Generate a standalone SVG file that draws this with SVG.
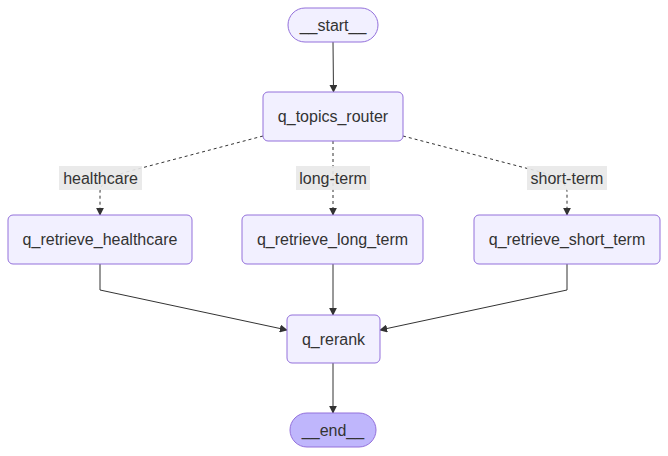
<svg xmlns="http://www.w3.org/2000/svg" width="668" height="456" viewBox="0 0 668 456">
<defs>
<marker id="arr" viewBox="0 0 10 10" refX="9" refY="5" markerWidth="8" markerHeight="8" markerUnits="userSpaceOnUse" orient="auto">
<path d="M0,0 L10,5 L0,10 z" fill="#333"/>
</marker>
<style>
.node rect{fill:#f2f0ff;stroke:#9370db;stroke-width:1}
.term rect{stroke:#9370db;stroke-width:1}
text{font-family:"Liberation Sans",Arial,sans-serif;font-size:16px;fill:#333;text-anchor:middle;dominant-baseline:central}
.e{fill:none;stroke:#333;stroke-width:1;marker-end:url(#arr)}
.d{stroke-dasharray:3,3}
.lbl rect{fill:#e8e8e8;opacity:0.9}
</style>
</defs>
<rect width="668" height="456" fill="#fff"/>
<g id="edges">
<path class="e" d="M333,42 L333.5,92"/>
<path class="e d" d="M263,136 L130,171 Q100,179 100,192 L100,215"/>
<path class="e d" d="M333,141 L333,215"/>
<path class="e d" d="M403,136 L537,171 Q567,179 567,192 L567,215"/>
<path class="e" d="M100,264 L100,290 L287,330"/>
<path class="e" d="M333,264 L333,315"/>
<path class="e" d="M567,264 L567,290 L380,330"/>
<path class="e" d="M333,363 L333,413"/>
</g>
<g id="edge-labels">
<g class="lbl"><rect x="59" y="166" width="83" height="24"/><text x="100.5" y="178">healthcare</text></g>
<g class="lbl"><rect x="296" y="166" width="74" height="24"/><text x="333" y="178">long-term</text></g>
<g class="lbl"><rect x="527" y="166" width="80" height="24"/><text x="567" y="178">short-term</text></g>
</g>
<g id="start" class="node"><rect x="288" y="8" width="90" height="34" rx="17"/><text x="333" y="25">__start__</text></g>
<g id="q_topics_router" class="node"><rect x="263" y="92" width="140" height="49" rx="5"/><text x="333" y="116.5">q_topics_router</text></g>
<g id="q_retrieve_healthcare" class="node"><rect x="8" y="215" width="184" height="49" rx="5"/><text x="100" y="239.5">q_retrieve_healthcare</text></g>
<g id="q_retrieve_long_term" class="node"><rect x="242" y="215" width="181" height="49" rx="5"/><text x="332.5" y="239.5">q_retrieve_long_term</text></g>
<g id="q_retrieve_short_term" class="node"><rect x="474" y="215" width="186" height="49" rx="5"/><text x="567" y="239.5">q_retrieve_short_term</text></g>
<g id="q_rerank" class="node"><rect x="287" y="315" width="93" height="48" rx="5"/><text x="333.5" y="339">q_rerank</text></g>
<g id="end" class="term"><rect x="290" y="413" width="86" height="34" rx="17" fill="#bfb6fc"/><text x="333" y="430">__end__</text></g>
</svg>
